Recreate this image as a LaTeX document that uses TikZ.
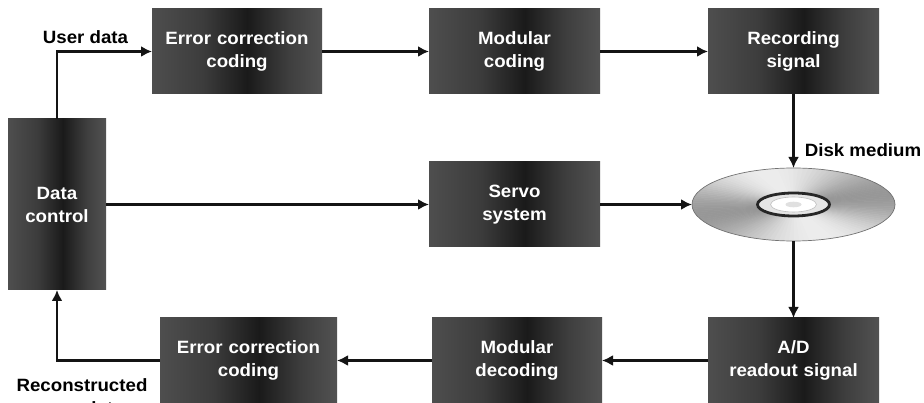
\documentclass[tikz,border=0pt]{standalone}
\usepackage{fontspec}
\setmainfont[FakeStretch=1.05]{Liberation Sans}
\usetikzlibrary{arrows.meta,shapes.geometric}

% colours of the dark block shading (left to right)
\definecolor{blkA}{HTML}{4E4E4E}
\definecolor{blkB}{HTML}{3C3C3C}
\definecolor{blkC}{HTML}{1A1A1A}
\definecolor{blkD}{HTML}{3E3E3E}
\definecolor{blkE}{HTML}{525252}
\pgfdeclarehorizontalshading{blockshade}{100bp}{%
  color(0bp)=(blkA); color(25bp)=(blkA); color(40bp)=(blkB);
  color(53bp)=(blkC); color(65bp)=(blkD); color(75bp)=(blkE); color(100bp)=(blkE)}

\tikzset{
  lbl/.style={font=\fontsize{17.8}{23}\selectfont\bfseries, inner sep=0pt, align=center},
  block/.style={lbl, shading=blockshade, text=white, outer sep=0pt,
                minimum height=85, text width=160},
  flow/.style={line width=2.2pt, draw=black!92,
               -{Latex[length=11pt,width=11pt]}},
}

\begin{document}
\begin{tikzpicture}[x=1pt,y=-1pt]
  \fill[white] (0,0) rectangle (924,403);
  \useasboundingbox (0,0) rectangle (924,403);

  % processing blocks
  \node[block, minimum width=98, minimum height=171, text width=90] (dc) at (57,204.5) {Data\\control};
  \node[block, minimum width=170] (ecc)   at (237,51.5)    {Error correction\\coding};
  \node[block, minimum width=171] (modc)  at (514.5,51.5)  {Modular\\coding};
  \node[block, minimum width=171] (rec)   at (793.5,51.5)  {Recording\\signal};
  \node[block, minimum width=171] (servo) at (514.5,204.5) {Servo\\system};
  \node[block, minimum width=171] (ad)    at (793.5,360.5) {A/D\\readout signal};
  \node[block, minimum width=170] (modd)  at (517,360.5)   {Modular\\decoding};
  \node[block, minimum width=177] (eccb)  at (248.5,360.5) {Error correction\\coding};

  % optical disk
  \node[ellipse, minimum width=203, minimum height=73, inner sep=0pt, outer sep=0pt] (disk) at (793.5,204.5) {};
  \begin{scope}
    \clip (disk.center) ellipse [x radius=101.5, y radius=36.5];
    \foreach \a in {0,3,...,357} {
      \pgfmathsetmacro{\v}{-(\a+1.5)}
      \pgfmathsetmacro{\g}{0.76+0.13*cos(2*(\v-95))+0.07*cos(2*(\v-130))}
      \definecolor{wedgecol}{gray}{\g}
      \fill[wedgecol, draw=wedgecol, line width=0.5pt]
        (disk.center) -- +(\a:140 and 52) -- +({\a+3}:140 and 52) -- cycle;
    }
  \end{scope}
  \draw[black!55, line width=0.7pt] (disk.center) ellipse [x radius=101.5, y radius=36.5];
  % hub
  \fill[black!10] (disk.center) ellipse [x radius=36, y radius=11.5];
  \draw[black!85, line width=2.8pt] (disk.center) ellipse [x radius=36, y radius=11.5];
  \fill[white, draw=black!25, line width=0.6pt] (disk.center) ellipse [x radius=23, y radius=7.5];
  \fill[black!12] (disk.center) ellipse [x radius=8, y radius=2.8];

  % connectors
  \draw[flow] (dc.north) |- (ecc.west);
  \draw[flow] (ecc.east) -- (modc.west);
  \draw[flow] (modc.east) -- (rec.west);
  \draw[flow] (rec.south) -- (disk.north);
  \draw[flow] (dc.east) -- (servo.west);
  \draw[flow] (servo.east) -- (disk.west);
  \draw[flow] (disk.south) -- (ad.north);
  \draw[flow] (ad.west) -- (modd.east);
  \draw[flow] (modd.west) -- (eccb.east);
  \draw[flow] (eccb.west) -| (dc.south);

  % connector labels
  \node[lbl] (ud) at (85.5,37) {User data};
  \node[lbl] (dm) at (863,150) {Disk medium};
  \node[lbl, anchor=north] (rud) at (82,378) {Reconstructed\\user data};
\end{tikzpicture}
\end{document}
